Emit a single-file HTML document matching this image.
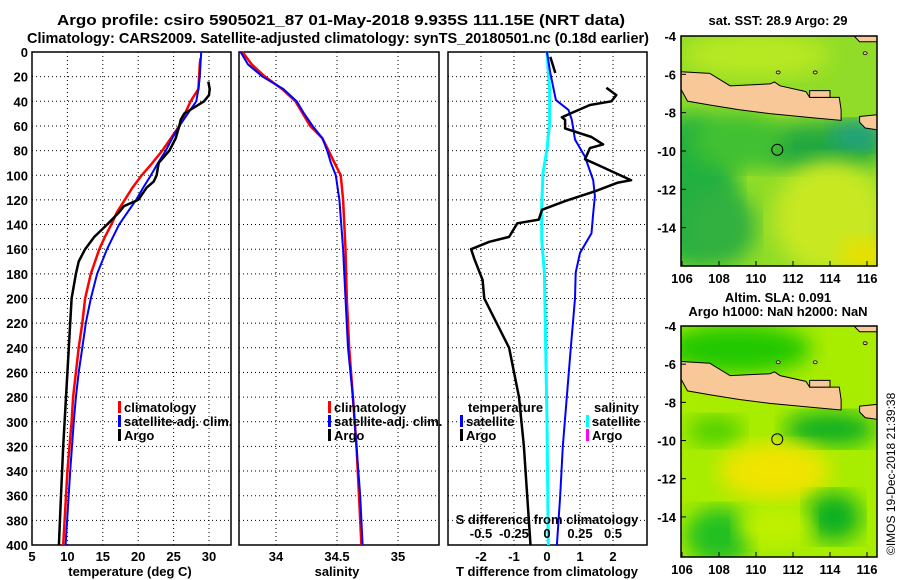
<!DOCTYPE html>
<html><head><meta charset="utf-8">
<style>
html,body{margin:0;padding:0;background:#fff;}
svg{display:block;font-family:"Liberation Sans",sans-serif;font-weight:bold;}
text{font-size:13px;fill:#000;}
</style></head>
<body>
<svg id="fig" width="900" height="580" viewBox="0 0 900 580">
<defs>
<filter id="blur6"><feGaussianBlur stdDeviation="6"/></filter>
<filter id="blur10"><feGaussianBlur stdDeviation="10"/></filter>
<clipPath id="clipTop"><rect x="681" y="36" width="196" height="230"/></clipPath>
<clipPath id="clipBot"><rect x="681" y="326" width="196" height="231"/></clipPath>
</defs>
<text x="341" y="25" text-anchor="middle" style="font-size:15px" textLength="568" lengthAdjust="spacingAndGlyphs">Argo profile: csiro 5905021_87 01-May-2018 9.935S 111.15E (NRT data)</text>
<text x="338" y="43" text-anchor="middle" style="font-size:15px" textLength="622" lengthAdjust="spacingAndGlyphs">Climatology: CARS2009. Satellite-adjusted climatology: synTS_20180501.nc (0.18d earlier)</text>
<g id="g1"></g>
<g id="g2"></g>
<g id="g3"></g>
<g id="maps"></g>
<text transform="translate(895,555) rotate(-90)" style="font-size:12px;font-weight:normal">©IMOS 19-Dec-2018 21:39:38</text>
</svg>
<script>
// ---- data ----
const depthTick=[0,20,40,60,80,100,120,140,160,180,200,220,240,260,280,300,320,340,360,380,400];
const tempTicks=[5,10,15,20,25,30];
const salTicks=[34,34.5,35];
const salTickLabels=["34","34.5","35"];
const tdiffTicks=[-2,-1,0,1,2];
const sdiffTicks=[-0.5,-0.25,0,0.25,0.5];
const climTdepth=[5,10,20,30,40,50,60,70,80,90,100,110,120,130,140,150,160,180,200,220,240,260,280,300,340,400];
const climT=[28.8,28.7,28.6,28.5,27.4,26.6,25.8,24.6,23.4,22,20.5,19.2,18.1,17,16.2,15.3,14.5,13.3,12.5,12.1,11.6,11.2,10.8,10.6,10.0,9.4];
const satTdepth=[0,10,20,30,40,50,60,70,80,90,100,110,120,130,140,160,180,200,220,240,260,280,300,340,400];
const satT=[28.9,28.8,28.7,28.5,28.2,27,25.8,24.8,23.9,22.8,21.8,20.7,19.7,18.5,17.3,15.6,14.2,13.3,12.6,12.1,11.6,11.2,10.9,10.4,9.75];
const argoTdepth=[24,30,35,40,45,50,55,60,70,80,90,100,105,110,120,125,130,140,150,160,170,180,200,240,280,320,360,400];
const argoT=[29.9,30.1,30,29.3,27.9,26.5,26,25.8,25.3,24.4,22.9,22.6,22.2,21.2,20,18,17.3,15.6,13.8,12.5,11.6,11.2,10.6,10.2,9.8,9.4,9.1,8.8];
const salDepth=[0,10,20,30,40,50,60,70,80,90,100,120,160,200,240,280,320,360,400];
const climS=[33.725,33.8,33.91,34.05,34.16,34.22,34.28,34.38,34.43,34.48,34.53,34.55,34.57,34.58,34.6,34.63,34.66,34.68,34.7];
const satS=[33.71,33.77,33.89,34.06,34.17,34.23,34.3,34.38,34.42,34.45,34.49,34.52,34.55,34.57,34.59,34.63,34.66,34.69,34.71];
const satTdDepth=[0,17,39,47,55,71,85,104,117,131,147,163,179,200,240,280,320,360,400];
const satTd=[0,0.1,0.27,0.65,0.75,0.85,1.15,1.4,1.45,1.4,1.35,1.0,0.87,0.85,0.72,0.6,0.48,0.4,0.3];
const argoTdDepth=[4,17,null,29,35,40,43,50,53,55,62,69,75,78,87,93,104,106,113,121,128,136,139,150,154,160,168,185,200,240,280,320,360,400];
const argoTd=[0.1,0.25,null,1.8,2.1,1.95,1.3,0.7,0.45,0.55,0.55,1.35,1.7,1.3,1.15,1.65,2.55,2.15,1.45,0.55,-0.15,-0.25,-0.9,-1.15,-1.75,-2.3,-2.2,-1.95,-1.9,-1.15,-0.85,-0.7,-0.6,-0.5];
const satSdDepth=[0,31,57,79,98,125,152,179,240,300,400];
const satSd=[0,0.02,0.02,0,-0.03,-0.04,-0.04,-0.02,-0.01,0,0.01];
const lonTicks=[106,108,110,112,114,116];
const latTicks=[-4,-6,-8,-10,-12,-14];
const argoLon=111.15, argoLat=-9.935;

// ---- scales ----
const NS="http://www.w3.org/2000/svg";
const Y0=52, Y1=545;
const yD=d=>Y0+d*(Y1-Y0)/400;
const xT=v=>32+(v-5)*7.08;
const xS=v=>276+(v-34)*122;
const xTd=v=>547+v*33;
const xSd=v=>547+v*132;
function mk(tag,attrs,parent){const e=document.createElementNS(NS,tag);for(const k in attrs)e.setAttribute(k,attrs[k]);parent.appendChild(e);return e;}
function txt(parent,x,y,s,anchor){const t=mk('text',{x:x,y:y,'text-anchor':anchor||'middle'},parent);t.textContent=s;return t;}

function panel(g,x0,x1,gridX,name){
  depthTick.forEach(d=>{if(d>0&&d<400){const l=mk('line',{x1:x0,x2:x1,y1:yD(d),y2:yD(d),stroke:'#000','stroke-width':1,'stroke-dasharray':'1,3'},g);
    
    }});
  gridX.forEach(x=>{const l=mk('line',{x1:x,x2:x,y1:Y0,y2:Y1,stroke:'#000','stroke-width':1,'stroke-dasharray':'1,3'},g);
    
    });
  const r=mk('rect',{x:x0,y:Y0,width:x1-x0,height:Y1-Y0,fill:'none',stroke:'#000','stroke-width':1.5},g);
  
  
}
function line(g,xs,ds,xf,color,w,name){
  let d='',pen=false;
  for(let i=0;i<xs.length;i++){
    if(xs[i]===null){pen=false;continue;}
    d+=(pen?'L':'M')+xf(xs[i]).toFixed(1)+','+yD(ds[i]).toFixed(1);pen=true;
  }
  const p=mk('path',{d:d,fill:'none',stroke:color,'stroke-width':w,'stroke-linejoin':'round'},g);
  
  
}
function legend(g,x,y,items){
  items.forEach((it,i)=>{
    const r=mk('rect',{x:x,y:y+i*14-11,width:3,height:12,fill:it[1]},g);
    
    
    const t=txt(g,x+6,y+i*14,it[0],'start');
    
    
  });
}

// Panel 1
const g1=document.getElementById('g1');
panel(g1,32,231,tempTicks.slice(1).map(xT),'temperature');
depthTick.forEach(d=>{const t=txt(g1,28,yD(d)+5,String(d),'end');
  
  });
tempTicks.forEach(v=>{const t=txt(g1,xT(v),561,String(v));
  
  });
const t1=txt(g1,130,576,'temperature (deg C)');
line(g1,climT,climTdepth,xT,'#f00',2.5,'climatology-temperature-line');
line(g1,satT,satTdepth,xT,'#00f',2,'satellite-temperature-line');
line(g1,argoT,argoTdepth,xT,'#000',2.5,'argo-temperature-line');
legend(g1,118,412,[['climatology','#f00'],['satellite-adj. clim.','#00f'],['Argo','#000']]);

// Panel 2
const g2=document.getElementById('g2');
panel(g2,239,439,salTicks.map(xS),'salinity');
salTicks.forEach((v,i)=>{const t=txt(g2,xS(v),561,salTickLabels[i]);
  
  });
const t2=txt(g2,337,576,'salinity');
line(g2,climS,salDepth,xS,'#f00',2.5,'climatology-salinity-line');
line(g2,satS,salDepth,xS,'#00f',2,'satellite-salinity-line');
legend(g2,328,412,[['climatology','#f00'],['satellite-adj. clim.','#00f'],['Argo','#000']]);

// Panel 3
const g3=document.getElementById('g3');
panel(g3,448,647,tdiffTicks.map(xTd),'difference');
tdiffTicks.forEach(v=>{const t=txt(g3,xTd(v),561,String(v));
  
  });
const t3=txt(g3,547,576,'T difference from climatology');
line(g3,satSd,satSdDepth,xSd,'#0ff',3,'satellite-salinity-diff-line');
line(g3,satTd,satTdDepth,xTd,'#00f',2,'satellite-temperature-diff-line');
line(g3,argoTd,argoTdDepth,xTd,'#000',2.5,'argo-temperature-diff-line');
const lt=txt(g3,468,412,'temperature','start');
legend(g3,460,426,[['satellite','#00f'],['Argo','#000']]);
const ls=txt(g3,594,412,'salinity','start');
legend(g3,586,426,[['satellite','#0ff'],['Argo','#f0f']]);
const sd=txt(g3,547,524,'S difference from climatology');
sdiffTicks.forEach(v=>{const t=txt(g3,xSd(v),538,String(v));
  
  });

// Maps
const gm=document.getElementById('maps');
const lx=lon=>682+(lon-106)*18.5;
const javaN=[[105.9,-5.86],[107.5,-5.95],[108.6,-6.6],[110.75,-6.5],[111.0,-6.4],[111.3,-6.6],[112.7,-6.9],[112.9,-7.2],[114.5,-7.2],[114.6,-7.85],[114.6,-8.4],[112.9,-8.25],[110.75,-8.05],[109.1,-7.85],[107.5,-7.6],[106.3,-7.4],[105.9,-6.7]];
const bali=[[115.6,-8.2],[116.6,-8.1],[116.6,-8.9],[115.9,-8.8],[115.6,-8.5]];
const madura=[[112.9,-6.85],[114.0,-6.85],[114.0,-7.2],[112.9,-7.2]];
const kal=[[115.3,-4],[116.6,-4],[116.6,-4.3],[115.6,-4.3]];
const islands=[[111.2,-5.9],[113.2,-5.9],[115.9,-4.9]];
function map(top,bot,latTop,latBot,clip,blobs,base,name){
  const ly=lat=>top+(latTop-lat)*(bot-top)/(latTop-latBot);
  const g=mk('g',{'clip-path':'url(#'+clip+')'},gm);
  
  
  mk('rect',{x:681,y:top,width:196,height:bot-top,fill:base},g);
  blobs.forEach(b=>{mk('ellipse',{cx:lx(b[0]),cy:ly(b[1]),rx:b[2]*18.5,ry:b[3]*19,fill:b[4],filter:'url(#blur10)'},g);});
  [javaN,bali,madura,kal].forEach(poly=>{
    const p=mk('polygon',{points:poly.map(q=>lx(q[0])+','+ly(q[1])).join(' '),fill:'#f8c898',stroke:'#000','stroke-width':1},g);
    
    
  });
  islands.forEach(q=>{mk('ellipse',{cx:lx(q[0]),cy:ly(q[1]),rx:2,ry:1.5,fill:'#f8c898',stroke:'#000','stroke-width':0.8},g);});
  const c=mk('circle',{cx:lx(argoLon),cy:ly(argoLat),r:5.5,fill:'none',stroke:'#000','stroke-width':1},gm);
  
  
  const r=mk('rect',{x:681,y:top,width:196,height:bot-top,fill:'none',stroke:'#000','stroke-width':1.5},gm);
  
  
  latTicks.forEach(v=>{const t=txt(gm,676,ly(v)+5,String(v),'end');
    
    
    mk('line',{x1:681,x2:686,y1:ly(v),y2:ly(v),stroke:'#000'},gm);});
  lonTicks.forEach(v=>{const t=txt(gm,lx(v),bot+17,String(v));
    
    
    mk('line',{x1:lx(v),x2:lx(v),y1:bot,y2:bot-5,stroke:'#000'},gm);});
}
map(36,266,-4,-16,'clipTop',[
  [106.5,-12,2.5,4,'#20b040'],[108,-14,2,2,'#30b040'],[113.5,-9.8,3.5,1.3,'#20a840'],[115.5,-9.2,1.5,0.8,'#20a080'],
  [109,-9.5,2.5,1.5,'#40c030'],[114,-13.5,3,3,'#c8e820'],[116,-15.5,1.5,1,'#e8e000'],[110,-5,4,1.2,'#b8e820']],'#90dc28','sst-map');
map(326,557,-4,-16.1,'clipBot',[
  [109,-5.2,4,1.3,'#20c800'],[114,-9.4,2.5,0.9,'#10b020'],[107.8,-9.5,1.5,0.8,'#50d000'],
  [111,-11.6,3,1.5,'#f0e400'],[108,-15,1.8,1.5,'#20c020'],[114.2,-14,1.5,1.3,'#10b020'],[111,-14.5,2,1,'#c0f000']],'#a8ec00','sla-map');
const m1=txt(gm,778,25,'sat. SST: 28.9 Argo: 29');
const m2=txt(gm,778,302,'Altim. SLA: 0.091');
const m3=txt(gm,778,316,'Argo h1000: NaN h2000: NaN');
</script>
</body></html>
